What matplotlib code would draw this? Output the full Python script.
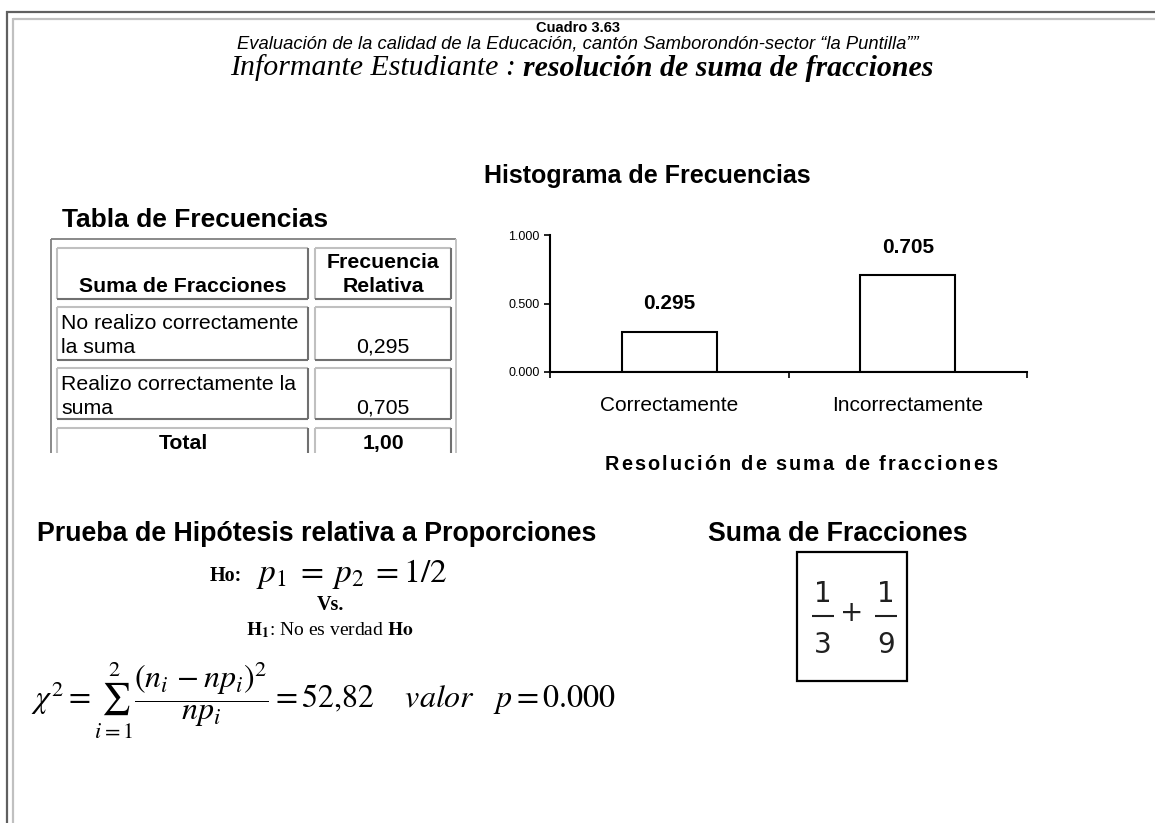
import matplotlib
matplotlib.use('Agg')
import matplotlib.pyplot as plt
from matplotlib.lines import Line2D
from matplotlib.patches import Rectangle

# ---------------- data ----------------
categories = ["Correctamente", "Incorrectamente"]
rel_freq = [0.295, 0.705]
bar_labels = ["0.295", "0.705"]
y_ticks = [0.0, 0.5, 1.0]
y_tick_labels = ["0.000", "0.500", "1.000"]
table_rows = ["No realizo correctamente\nla suma", "Realizo correctamente la\nsuma"]
table_values = ["0,295", "0,705"]
table_total_label = "Total"
table_total_value = "1,00"
fraction_terms = [("1", "3"), ("1", "9")]

W, H = 1155, 823
plt.rcParams['mathtext.fontset'] = 'stix'
SANS = 'Liberation Sans'
SERIF = 'Liberation Serif'

fig = plt.figure(figsize=(W / 100, H / 100), dpi=100)
ov = fig.add_axes([0, 0, 1, 1])
ov.set_xlim(0, W)
ov.set_ylim(H, 0)
ov.axis('off')
renderer = fig.canvas.get_renderer()


def hline(x0, x1, y, c, lw):
    ov.add_line(Line2D([x0, x1], [y, y], color=c, lw=lw, solid_capstyle='butt'))


def vline(x, y0, y1, c, lw):
    ov.add_line(Line2D([x, x], [y0, y1], color=c, lw=lw, solid_capstyle='butt'))


def text_width(s, **kw):
    t = ov.text(0, 0, s, **kw)
    w = t.get_window_extent(renderer).width
    t.remove()
    return w


def spaced_text(xc, y, s, extra, **kw):
    bar_w = text_width('|', **kw)
    total = text_width(s, **kw) + extra * (len(s) - 1)
    x0 = xc - total / 2
    for k, ch in enumerate(s):
        if ch == ' ':
            continue
        off = text_width(s[:k] + '|', **kw) - bar_w if k > 0 else 0
        ov.text(x0 + off + extra * k, y, ch, ha='left', va='center', **kw)


# page frame
DARK = '#606060'
LIGHT = '#c0c0c0'
hline(5.5, W, 12, DARK, 1.6)
vline(6.5, 11, H, DARK, 1.6)
hline(12.5, W, 19, LIGHT, 1.6)
vline(13, 18, H, LIGHT, 1.6)

# headings
ov.text(578, 28, "Cuadro 3.63", ha='center', va='center', family=SANS,
        fontweight='bold', fontsize=10.5)
ov.text(578, 44, "Evaluación de la calidad de la Educación, cantón Samborondón-sector \u201cla Puntilla\u201d\u201d",
        ha='center', va='center', family=SANS, style='italic', fontsize=13.2)

t1 = ov.text(230, 68, "Informante Estudiante : ", ha='left', va='center', family=SERIF,
             style='italic', fontsize=21.5)
bb = t1.get_window_extent(renderer)
ov.text(bb.x1, 68, "resolución de suma de fracciones", ha='left', va='center', family=SERIF,
        style='italic', fontweight='bold', fontsize=21.5)

ov.text(647, 176, "Histograma de Frecuencias", ha='center', va='center', family=SANS,
        fontweight='bold', fontsize=18)
ov.text(62, 220, "Tabla de Frecuencias", ha='left', va='center', family=SANS,
        fontweight='bold', fontsize=19)

# ---------------- table ----------------
TG = '#808080'
hline(50.5, 456, 239, TG, 1.3)
vline(51, 239, 453, TG, 1.3)
vline(455.5, 239, 453, LIGHT, 1.3)

cols = [(57, 308), (315, 451)]
rows = [(248, 299), (307, 360), (368, 419), (428, None)]
for (y0, y1) in rows:
    for (x0, x1) in cols:
        yb = y1 if y1 is not None else 453
        hline(x0, x1, y0, LIGHT, 1.5)
        vline(x0, y0, yb, LIGHT, 1.5)
        vline(x1, y0, yb, '#707070', 1.5)
        if y1 is not None:
            hline(x0, x1, y1, '#707070', 1.5)

TFS = 15.3
ov.text(183, 286, "Suma de Fracciones", ha='center', va='center', family=SANS,
        fontweight='bold', fontsize=TFS)
ov.text(383, 262, "Frecuencia", ha='center', va='center', family=SANS,
        fontweight='bold', fontsize=TFS)
ov.text(383, 286, "Relativa", ha='center', va='center', family=SANS,
        fontweight='bold', fontsize=TFS)
row_y = [(323, 347), (384, 408)]
for lbl, val, (ya, yb2) in zip(table_rows, table_values, row_y):
    first, second = lbl.split('\n')
    ov.text(61, ya, first, ha='left', va='center', family=SANS, fontsize=TFS)
    ov.text(61, yb2, second, ha='left', va='center', family=SANS, fontsize=TFS)
    ov.text(383, yb2, val, ha='center', va='center', family=SANS, fontsize=TFS)
ov.text(183, 443, table_total_label, ha='center', va='center', family=SANS,
        fontweight='bold', fontsize=TFS)
ov.text(383, 443, table_total_value, ha='center', va='center', family=SANS,
        fontweight='bold', fontsize=TFS)

# ---------------- bar chart ----------------
AX_L, AX_R, AX_T, AX_B = 550, 1027, 235, 372
ax = fig.add_axes([AX_L / W, (H - AX_B) / H, (AX_R - AX_L) / W, (AX_B - AX_T) / H])
ax.set_facecolor('none')
xpos = list(range(len(categories)))
ax.bar(xpos, rel_freq, width=0.4, color='white', edgecolor='black', linewidth=1.5)
ax.set_xlim(-0.5, len(categories) - 0.5)
ax.set_ylim(0, 1)
for s in ['top', 'right']:
    ax.spines[s].set_visible(False)
for s in ['left', 'bottom']:
    ax.spines[s].set_linewidth(1.5)
    ax.spines[s].set_color('black')
ax.set_yticks(y_ticks)
ax.set_yticklabels(y_tick_labels, family=SANS, fontsize=9)
ax.tick_params(axis='y', length=4.3, width=1.2, pad=3)
ax.set_xticks([-0.5, 0.5, 1.5])
ax.set_xticklabels([])
ax.tick_params(axis='x', length=4.5, width=1.2)
for x, cat in zip(xpos, categories):
    ax.text(x, -0.248, cat, ha='center', va='center', family=SANS, fontsize=15, clip_on=False)
for x, v, lbl in zip(xpos, rel_freq, bar_labels):
    ax.annotate(lbl, (x, v), xytext=(0, 20), textcoords='offset points', ha='center',
                va='center', family=SANS, fontweight='bold', fontsize=15)

spaced_text(801, 464, "Resolución de suma de fracciones", 2.1, family=SANS,
            fontweight='bold', fontsize=14.3)

# ---------------- hypothesis test ----------------
ov.text(37, 534, "Prueba de Hipótesis relativa a Proporciones", ha='left', va='center',
        family=SANS, fontweight='bold', fontsize=19.3)
ov.text(210, 576, "Ho:", ha='left', va='center', family=SERIF, fontweight='bold', fontsize=14.5)
ov.text(256, 574, r"$p_1\;=\;p_2\;=1/2$", ha='left', va='center', fontsize=24)
ov.text(330, 605, "Vs.", ha='center', va='center', family=SERIF, fontweight='bold', fontsize=14.5)
ov.text(330, 630, r"$\mathbf{H_1}$: No es verdad $\mathbf{Ho}$", ha='center', va='center',
        family=SERIF, fontsize=14)
ov.text(31, 700, r"$\chi^2 = \sum_{i=1}^{2}\dfrac{(n_i\,-np_i)^2}{np_i} = 52{,}82\quad\ valor\quad p = 0.000$",
        ha='left', va='center', fontsize=23)

# ---------------- fraction box ----------------
ov.text(838, 534, "Suma de Fracciones", ha='center', va='center', family=SANS,
        fontweight='bold', fontsize=19.3)
ov.add_patch(Rectangle((797, 552), 110, 129, fill=False, edgecolor='black', lw=1.6))
FR_FONT = dict(family='DejaVu Sans', fontsize=20, color='#202020')
for xc, (num, den) in zip([823, 886], fraction_terms):
    ov.text(xc, 594, num, ha='center', va='center', **FR_FONT)
    ov.text(xc, 645, den, ha='center', va='center', **FR_FONT)
    hline(xc - 11, xc + 11, 616, '#202020', 1.5)
ov.text(852, 613, "+", ha='center', va='center', **FR_FONT)

fig.savefig('out.png', dpi=100)
